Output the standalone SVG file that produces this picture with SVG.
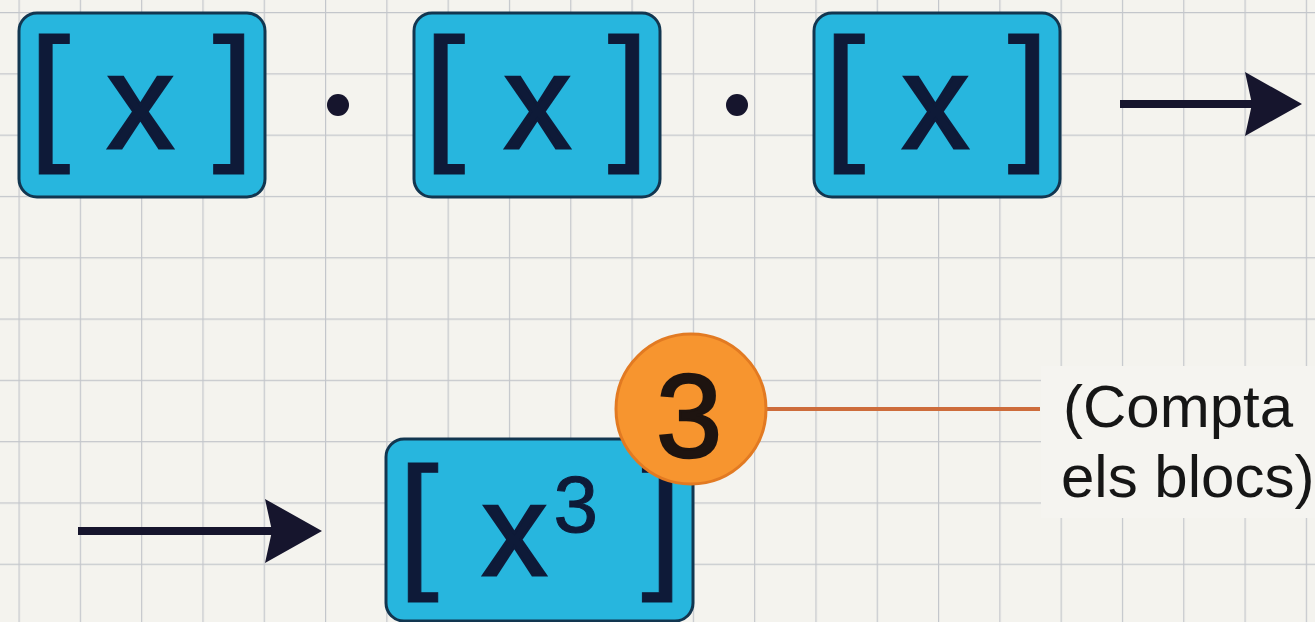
<svg xmlns="http://www.w3.org/2000/svg" width="1315" height="622" viewBox="0 0 1315 622">
  <defs>
    <pattern id="grid" patternUnits="userSpaceOnUse" x="18.5" y="12" width="61.3" height="61.3">
      <path d="M0,0 H61.3 M0,0 V61.3" fill="none" stroke="#C3C6CB" stroke-width="2.4"/>
    </pattern>
    <marker id="head" markerUnits="userSpaceOnUse" viewBox="0 0 58 64" markerWidth="58" markerHeight="64" refX="15" refY="32" orient="auto">
      <path d="M0,0 L57,32 L0,64 L7,32 Z" fill="#16152D"/>
    </marker>
    <style>
      .blk { fill: #27B6DE; stroke: #123650; stroke-width: 3; }
      .brk { font-family: "Liberation Sans", Arial, sans-serif; fill: #0E1A38; stroke: #0E1A38; stroke-width: 1; }
      .var { font-family: "Liberation Sans", Arial, sans-serif; fill: #0E1A38; stroke: #0E1A38; stroke-width: 3; }
      .sup { font-family: "Liberation Sans", Arial, sans-serif; fill: #0E1A38; stroke: #0E1A38; stroke-width: 1; }
      .dot { fill: #16152D; }
      .arrow { fill: none; stroke: #16152D; stroke-width: 8; }
      .note { font-family: "Liberation Sans", Arial, sans-serif; font-size: 60px; fill: #161616; }
    </style>
  </defs>

  <rect width="1315" height="622" fill="#F4F3EE"/>
  <rect width="1315" height="622" fill="url(#grid)"/>

  <g id="connectors">
    <path class="arrow" d="M1120,104 H1260" marker-end="url(#head)"/>
    <path class="arrow" d="M78,531 H280" marker-end="url(#head)"/>
    <path d="M767,409 H1040" fill="none" stroke="#CD6C3B" stroke-width="4"/>
  </g>

  <g id="block1">
    <rect class="blk" x="19" y="13" width="246" height="184" rx="18"/>
    <text class="brk" x="28.5" y="143" font-size="151">[</text>
    <text class="var" x="140.5" y="148" font-size="133" text-anchor="middle">x</text>
    <text class="brk" x="254.5" y="143" font-size="151" text-anchor="end">]</text>
  </g>

  <g id="dot1"><circle class="dot" cx="338" cy="105" r="11"/></g>

  <g id="block2">
    <rect class="blk" x="414" y="13" width="246" height="184" rx="18"/>
    <text class="brk" x="423.5" y="143" font-size="151">[</text>
    <text class="var" x="537.5" y="148" font-size="133" text-anchor="middle">x</text>
    <text class="brk" x="649.5" y="143" font-size="151" text-anchor="end">]</text>
  </g>

  <g id="dot2"><circle class="dot" cx="737" cy="105" r="11"/></g>

  <g id="block3">
    <rect class="blk" x="814" y="13" width="246" height="184" rx="18"/>
    <text class="brk" x="823.5" y="143" font-size="151">[</text>
    <text class="var" x="935.5" y="148" font-size="133" text-anchor="middle">x</text>
    <text class="brk" x="1049.5" y="143" font-size="151" text-anchor="end">]</text>
  </g>

  <g id="result">
    <rect class="blk" x="386" y="439" width="307" height="182" rx="18"/>
    <text class="brk" x="397.7" y="571" font-size="148">[</text>
    <text class="var" x="514.5" y="575" font-size="129" text-anchor="middle">x</text>
    <text class="sup" x="553.6" y="532" font-size="80">3</text>
    <text class="brk" x="682.3" y="571" font-size="148" text-anchor="end">]</text>
  </g>

  <g id="badge">
    <circle cx="691" cy="409" r="75" fill="#F7952F" stroke="#E27A22" stroke-width="3"/>
    <text x="689" y="457" font-family="Liberation Sans, Arial, sans-serif" font-size="119" fill="#1E1410" stroke="#1E1410" stroke-width="2.5" text-anchor="middle">3</text>
  </g>

  <g id="note">
    <rect x="1041" y="366" width="274" height="152" fill="#F5F4F0"/>
    <text class="note" x="1063" y="427">(Compta</text>
    <text class="note" x="1061" y="497">els blocs)</text>
  </g>
</svg>
